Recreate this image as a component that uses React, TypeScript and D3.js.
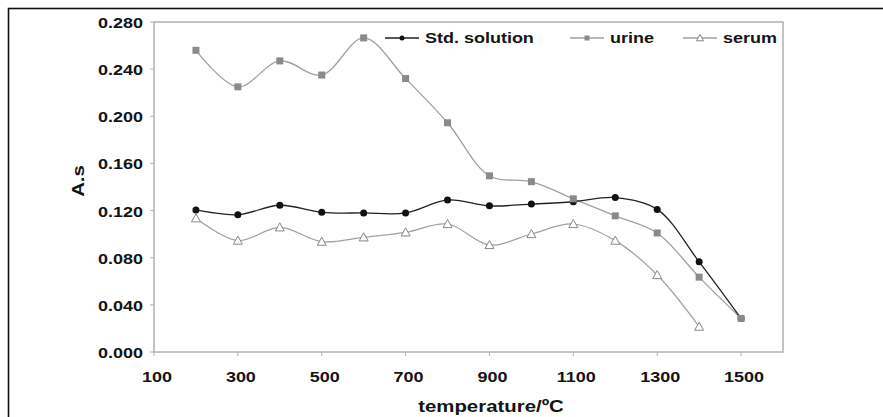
import React from "react";
import * as d3 from "d3";

// Atomization temperature study: integrated absorbance (A.s) vs temperature
const temperatures = [200, 300, 400, 500, 600, 700, 800, 900, 1000, 1100, 1200, 1300, 1400, 1500];
const stdSolution = [0.1205, 0.1165, 0.1245, 0.1185, 0.118, 0.118, 0.129, 0.124, 0.1255, 0.1275, 0.131, 0.121, 0.0765, 0.0285];
const urine = [0.256, 0.225, 0.247, 0.235, 0.2665, 0.232, 0.1945, 0.1495, 0.1445, 0.13, 0.1155, 0.101, 0.0635, 0.0285];
const serum = [0.1135, 0.0945, 0.1058, 0.0936, 0.0973, 0.1015, 0.1086, 0.0908, 0.1001, 0.1086, 0.0945, 0.0653, 0.0215];

const xTicks = [100, 300, 500, 700, 900, 1100, 1300, 1500];
const yTicks = [0, 0.04, 0.08, 0.12, 0.16, 0.2, 0.24, 0.28];

const seriesNames = ["Std. solution", "urine", "serum"];

const W = 883;
const H = 417;
const plot = { left: 154, top: 22, right: 783, bottom: 352 };
const FONT = "'Liberation Sans', Arial, sans-serif";
const SX = 1.2;

type Pt = [number, number];

function Label(props: {
  x: number;
  y: number;
  text: string;
  anchor?: "start" | "middle" | "end";
  size?: number;
  rotate?: number;
}) {
  const { x, y, text, anchor = "start", size = 15, rotate = 0 } = props;
  return (
    <text
      transform={`translate(${x},${y}) rotate(${rotate}) scale(${SX},1)`}
      textAnchor={anchor}
      dominantBaseline="central"
      fontFamily={FONT}
      fontWeight="bold"
      fontSize={size}
      fill="#141414"
    >
      {text}
    </text>
  );
}

function Marker(props: { kind: number; x: number; y: number }) {
  const { kind, x, y } = props;
  if (kind === 0) {
    return <circle cx={x} cy={y} r={3.5} fill="#111" />;
  }
  if (kind === 1) {
    return <rect x={x - 3.5} y={y - 3.5} width={7} height={7} fill="#8a8a8a" />;
  }
  const s = 4.5;
  return (
    <path
      d={`M${x},${y - s}L${x + s},${y + s * 0.8}L${x - s},${y + s * 0.8}Z`}
      fill="#fff"
      stroke="#888"
      strokeWidth={1}
    />
  );
}

export default function App() {
  const x = d3.scaleLinear().domain([100, 1600]).range([plot.left, plot.right]);
  const y = d3.scaleLinear().domain([0, 0.28]).range([plot.bottom, plot.top]);

  const line = d3
    .line<Pt>()
    .x((d) => x(d[0]))
    .y((d) => y(d[1]))
    .curve(d3.curveCatmullRom.alpha(0.5));

  const series = [
    { values: stdSolution, color: "#222", width: 1.3, kind: 0 },
    { values: urine, color: "#a0a0a0", width: 1.3, kind: 1 },
    { values: serum, color: "#a0a0a0", width: 1.2, kind: 2 },
  ];
  const lineOrder = [2, 1, 0];
  const markerOrder = [0, 1, 2];

  const legendItems = [
    { name: seriesNames[0], kind: 0, color: "#222", lx: 385, tx: 425 },
    { name: seriesNames[1], kind: 1, color: "#a0a0a0", lx: 570, tx: 610 },
    { name: seriesNames[2], kind: 2, color: "#a0a0a0", lx: 683, tx: 723 },
  ];
  const legendY = 38;

  const toPts = (values: number[]): Pt[] => values.map((v, j) => [temperatures[j], v]);

  return (
    <svg
      width={W}
      height={H}
      style={{ position: "absolute", left: 0, top: 0, background: "#fff" }}
    >
      {/* outer frame */}
      <rect x={8.5} y={8.5} width={W + 20} height={H + 20} fill="none" stroke="#111" strokeWidth={1.6} />

      {/* plot frame */}
      <rect
        x={plot.left}
        y={plot.top}
        width={plot.right - plot.left}
        height={plot.bottom - plot.top}
        fill="none"
        stroke="#b0b0b0"
        strokeWidth={1.5}
      />

      {/* y axis ticks and labels */}
      {yTicks.map((t) => (
        <g key={`y${t}`}>
          <line x1={plot.left - 4} x2={plot.left} y1={y(t)} y2={y(t)} stroke="#b0b0b0" strokeWidth={1} />
          <Label x={143} y={y(t) + 1} text={d3.format(".3f")(t)} anchor="end" />
        </g>
      ))}

      {/* x axis ticks and labels */}
      {xTicks.map((t) => (
        <g key={`x${t}`}>
          <line x1={x(t)} x2={x(t)} y1={plot.bottom} y2={plot.bottom + 4} stroke="#b0b0b0" strokeWidth={1} />
          <Label x={x(t) + 3} y={377} text={String(t)} anchor="middle" />
        </g>
      ))}

      {/* axis titles */}
      <Label x={491} y={406} text="temperature/ºC" anchor="middle" size={17} />
      <text
        transform={`translate(78,181) rotate(-90) scale(${SX},1)`}
        textAnchor="middle"
        dominantBaseline="central"
        fontFamily={FONT}
        fontWeight="bold"
        fontSize={17}
        fill="#141414"
      >
        A.s
      </text>

      {/* series lines */}
      {lineOrder.map((i) => (
        <path
          key={`l${i}`}
          d={line(toPts(series[i].values)) || ""}
          fill="none"
          stroke={series[i].color}
          strokeWidth={series[i].width}
        />
      ))}

      {/* series markers */}
      {markerOrder.map((i) => (
        <g key={`m${i}`}>
          {toPts(series[i].values).map((p, j) => (
            <Marker key={j} kind={series[i].kind} x={x(p[0])} y={y(p[1])} />
          ))}
        </g>
      ))}

      {/* legend */}
      {legendItems.map((it) => (
        <g key={it.name}>
          <line x1={it.lx} x2={it.lx + 34} y1={legendY} y2={legendY} stroke={it.color} strokeWidth={1.3} />
          {it.kind === 0 ? (
            <circle cx={it.lx + 17} cy={legendY} r={2.5} fill="#111" />
          ) : it.kind === 1 ? (
            <rect x={it.lx + 17 - 2.5} y={legendY - 2.5} width={5} height={5} fill="#8a8a8a" />
          ) : (
            <path
              d={`M${it.lx + 17},${legendY - 3.5}L${it.lx + 20.5},${legendY + 2.8}L${it.lx + 13.5},${legendY + 2.8}Z`}
              fill="#fff"
              stroke="#888"
              strokeWidth={1}
            />
          )}
          <Label x={it.tx} y={legendY} text={it.name} />
        </g>
      ))}
    </svg>
  );
}
